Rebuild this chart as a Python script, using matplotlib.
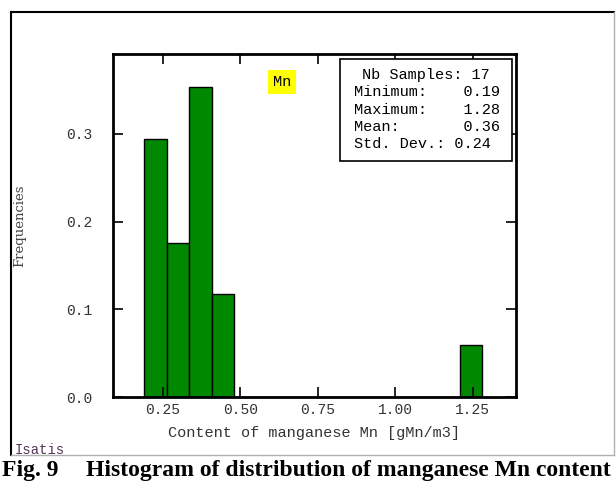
import numpy as np
import matplotlib.pyplot as plt
from matplotlib.patches import Rectangle
from matplotlib.lines import Line2D

# histogram of Mn content (17 samples, 15 classes between min and max)
bin_left = [0.19, 0.263, 0.335, 0.408, 0.481, 0.553, 0.626, 0.699, 0.772,
            0.844, 0.917, 0.990, 1.062, 1.135, 1.208]
bin_width = 0.0727
freq = [0.294, 0.176, 0.353, 0.118, 0, 0, 0, 0, 0, 0, 0, 0, 0, 0, 0.059]

xticks = [0.25, 0.50, 0.75, 1.00, 1.25]
yticks = [0.0, 0.1, 0.2, 0.3]

stats_lines = ["Nb Samples: 17",
               "Minimum:    0.19",
               "Maximum:    1.28",
               "Mean:       0.36",
               "Std. Dev.: 0.24"]

W, H = 616, 486
mono = 'Liberation Mono'
fig = plt.figure(figsize=(W / 100, H / 100), dpi=100)

# outer panel frame (black top/left, grey right/bottom)
fig.add_artist(Line2D([11 / W, 614 / W], [1 - 12.5 / H, 1 - 12.5 / H], color='black', lw=1.5))
fig.add_artist(Line2D([11 / W, 11 / W], [1 - 12.5 / H, 1 - 455 / H], color='black', lw=1.5))
fig.add_artist(Line2D([614 / W, 614 / W], [1 - 12.5 / H, 1 - 455 / H], color='#b0b0b0', lw=1))
fig.add_artist(Line2D([11 / W, 614 / W], [1 - 455 / H, 1 - 455 / H], color='#b0b0b0', lw=1))

ax = fig.add_axes([113 / W, 1 - 397 / H, (515.5 - 113) / W, (397 - 54.5) / H])
ax.bar(bin_left, freq, width=bin_width, align='edge', color='#008800',
       edgecolor='black', linewidth=1)
ax.set_xlim(0.089, 1.388)
ax.set_ylim(0, 0.3905)
ax.set_xticks(xticks)
ax.set_xticklabels(['%.2f' % v for v in xticks])
ax.set_yticks(yticks)
ax.set_yticklabels(['%.1f' % v for v in yticks])
ax.tick_params(direction='in', length=7, width=1.2, top=True, right=True,
               labelsize=10.5, labelcolor='#333333')
ax.tick_params(axis='x', pad=4)
ax.tick_params(axis='y', pad=15)
for lab in ax.get_xticklabels() + ax.get_yticklabels():
    lab.set_family(mono)
for s in ax.spines.values():
    s.set_linewidth(2)

ax.set_xlabel('Content of manganese Mn [gMn/m3]', family=mono, fontsize=11,
              color='#333333', labelpad=7)
fig.text(20 / W, 1 - 226 / H, 'Frequencies', rotation=90, family='DejaVu Serif',
         fontsize=9.5, color='#444444', ha='center', va='center')

# variable name tag
ax.text((282 - 113) / 402.5, (397 - 82) / 342.5, 'Mn', transform=ax.transAxes,
        family=mono, fontsize=11, ha='center', va='center',
        bbox=dict(boxstyle='square,pad=0.3', facecolor='yellow', edgecolor='none'))

# statistics box
ax.add_patch(Rectangle(((340 - 113) / 402.5, (397 - 161) / 342.5),
                       (512 - 340) / 402.5, (161 - 59.5) / 342.5,
                       transform=ax.transAxes, facecolor='white',
                       edgecolor='black', lw=1.2, zorder=5))
ax.text((426 - 113) / 402.5, (397 - 75) / 342.5, stats_lines[0], transform=ax.transAxes,
        family=mono, fontsize=11, ha='center', va='center', zorder=6)
for i, line in enumerate(stats_lines[1:]):
    ax.text((354 - 113) / 402.5, (397 - 92.5 - 17.2 * i) / 342.5, line,
            transform=ax.transAxes, family=mono, fontsize=11, ha='left',
            va='center', zorder=6)

fig.text(15 / W, 1 - 450 / H, 'Isatis', family=mono, fontsize=10,
         color='#553355', va='center')

# caption
fig.text(2 / W, 1 - 476 / H, 'Fig. 9', family='Liberation Serif',
         weight='bold', fontsize=17, va='baseline')
fig.text(86 / W, 1 - 476 / H, 'Histogram of distribution of manganese Mn content',
         family='Liberation Serif', weight='bold', fontsize=17, va='baseline')

fig.savefig('out.png', dpi=100)
